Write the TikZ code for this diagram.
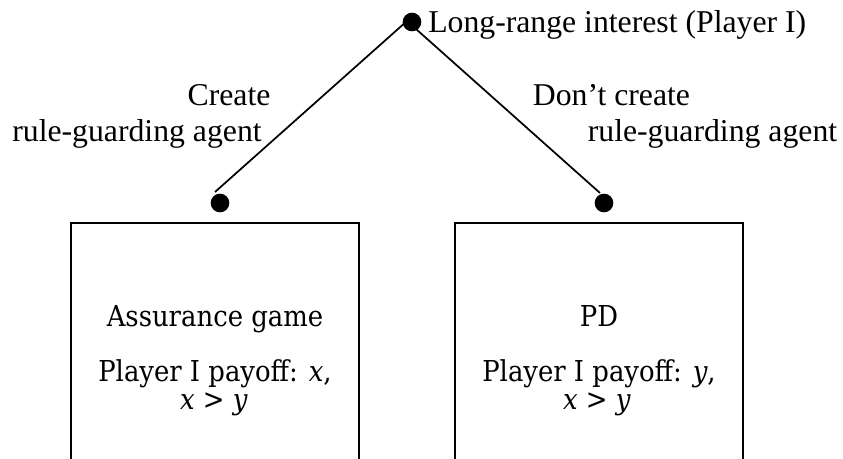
\documentclass[tikz,border=0pt]{standalone}
\usepackage{fontspec}
\setmainfont{Liberation Serif}
\newfontfamily\gamefont{DejaVu Serif Condensed}
\begin{document}
\begin{tikzpicture}[x=0.75pt,y=-0.75pt,
  lbl/.style={font=\fontsize{23.8}{27}\selectfont, inner sep=0pt, anchor=base},
  gametext/.style={font=\gamefont\fontsize{21.6}{23}\selectfont, inner sep=0pt, anchor=base},
  dotnode/.style={circle, fill=black, inner sep=0pt, minimum size=14pt},
  branch/.style={line width=1.3pt},
  frame/.style={line width=1.4pt}]
\useasboundingbox (0,0) rectangle (843,459);

% decision nodes
\node[dotnode] (root) at (412,22) {};
\node[dotnode] (lnode) at (220,203) {};
\node[dotnode] (rnode) at (604,203) {};
\coordinate (apex) at (407,21);
\coordinate (lend) at (215,192);
\coordinate (rend) at (600,193);

% branches
\draw[branch] (apex) -- (lend);
\draw[branch] (apex) -- (rend);

% labels
\node[lbl, anchor=base west] (rootlbl) at (428,33) {Long-range interest (Player I)};
\node[lbl] (lcreate) at (229,106) {Create};
\node[lbl] (lrule) at (137,142) {rule-guarding agent};
\node[lbl] (rcreate) at (611.5,106) {Don’t create};
\node[lbl] (rrule) at (712.5,142) {rule-guarding agent};

% outcome boxes (open at the bottom)
\draw[frame] (71,459) -- (71,223) -- (359,223) -- (359,459);
\draw[frame] (455,459) -- (455,223) -- (743,223) -- (743,459);

\node[gametext] (lgame) at (215,327) {Assurance game};
\node[gametext] (lpay) at (215,382) {Player I payoff: \textit{x},};
\node[gametext] (lineq) at (214,410) {\textit{x} > \textit{y}};

\node[gametext] (rgame) at (599,327) {PD};
\node[gametext] (rpay) at (599,382) {Player I payoff: \textit{y},};
\node[gametext] (rineq) at (597,410) {\textit{x} > \textit{y}};
\end{tikzpicture}
\end{document}
